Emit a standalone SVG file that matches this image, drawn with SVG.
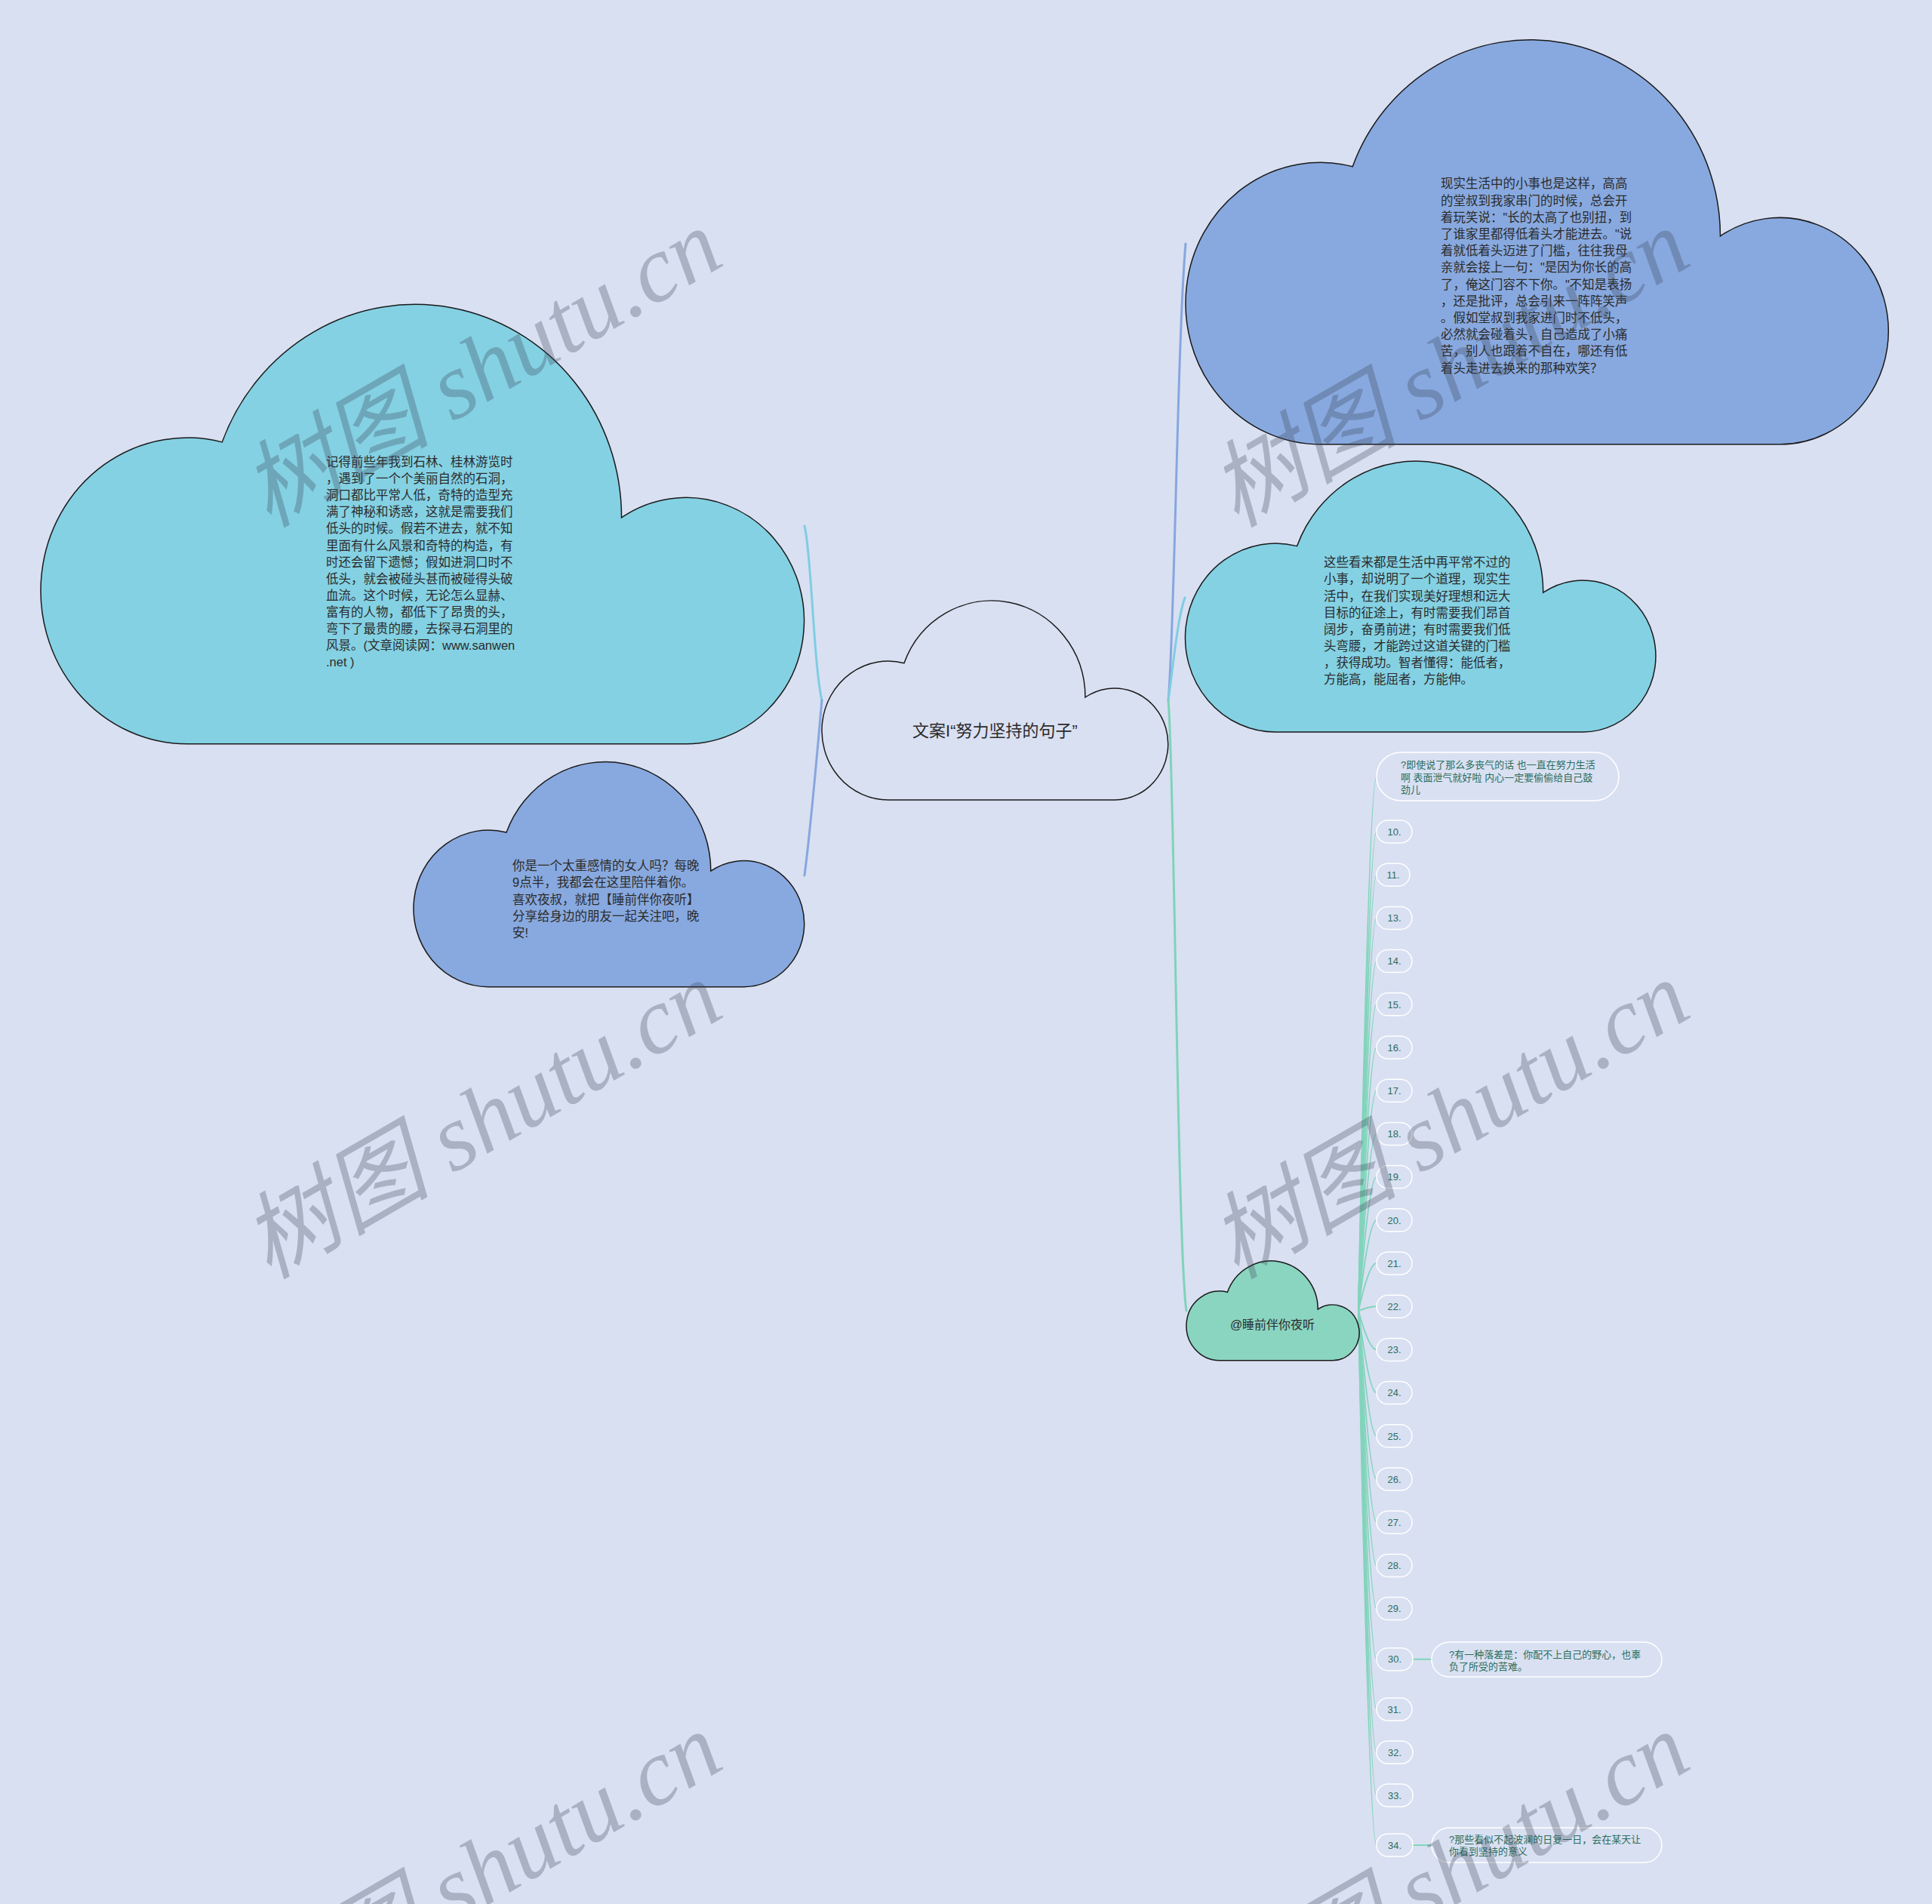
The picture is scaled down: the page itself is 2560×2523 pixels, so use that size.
<svg xmlns="http://www.w3.org/2000/svg" width="2560" height="2523" viewBox="0 0 2560 2523">
<style>
.cloud{stroke:#1a1a1a}
.c-none{fill:#d9e0f2}
.c-cyan{fill:#84d1e3}
.c-blue{fill:#88a9df}
.c-green{fill:#8ad5c0}
.t{font-family:"Liberation Sans","Noto Sans CJK SC",sans-serif;fill:#2b2b2b}
.tb{font-size:16.5px}
.sn{fill:none;stroke:#ffffff;stroke-width:1.5}
.st{font-family:"Liberation Sans","Noto Sans CJK SC",sans-serif;font-size:13px;fill:#2a6e5c}
.num{text-anchor:middle}
.conn{fill:none;stroke-linecap:round}
.wm{font-family:"Liberation Serif","Noto Sans CJK SC",serif;font-size:125px;font-style:italic;fill:#3c465a;opacity:0.3}
</style>
<defs>
<path id="cloudShape" d="M88,262 A88,92 0 1 1 109,80.66 A124,128 0 0 1 349,126 A71,74 0 1 1 388,262 Z"/>
</defs>
<rect x="0" y="0" width="2560" height="2523" fill="#d9e0f2"/>

<g id="connectors">
<path class="conn" stroke="#7fcde2" stroke-width="3" d="M1089,928 C1078,880 1075,730 1066,697"/>
<path class="conn" stroke="#86a7de" stroke-width="3" d="M1089,928 C1084,985 1074,1100 1066,1160"/>
<path class="conn" stroke="#86a7de" stroke-width="3" d="M1548,928 C1556,850 1560,450 1571,323"/>
<path class="conn" stroke="#7fcde2" stroke-width="3" d="M1548,928 C1555,880 1560,820 1570,792"/>
<path class="conn" stroke="#80d3b9" stroke-width="3" d="M1548,928 C1556,1010 1560,1650 1572,1737"/>
<g stroke="#82d4bb" stroke-width="2" fill="none">
<path d="M1800,1737 Q1814,1029 1824,1029"/>
<path d="M1800,1737 Q1814,1102 1824,1102"/>
<path d="M1800,1737 Q1814,1159.2 1824,1159.2"/>
<path d="M1800,1737 Q1814,1216.4 1824,1216.4"/>
<path d="M1800,1737 Q1814,1273.6 1824,1273.6"/>
<path d="M1800,1737 Q1814,1330.8 1824,1330.8"/>
<path d="M1800,1737 Q1814,1388 1824,1388"/>
<path d="M1800,1737 Q1814,1445.2 1824,1445.2"/>
<path d="M1800,1737 Q1814,1502.4 1824,1502.4"/>
<path d="M1800,1737 Q1814,1559.6 1824,1559.6"/>
<path d="M1800,1737 Q1814,1616.8 1824,1616.8"/>
<path d="M1800,1737 Q1814,1674 1824,1674"/>
<path d="M1800,1737 Q1814,1731.2 1824,1731.2"/>
<path d="M1800,1737 Q1814,1788.4 1824,1788.4"/>
<path d="M1800,1737 Q1814,1845.6 1824,1845.6"/>
<path d="M1800,1737 Q1814,1902.8 1824,1902.8"/>
<path d="M1800,1737 Q1814,1960 1824,1960"/>
<path d="M1800,1737 Q1814,2017.2 1824,2017.2"/>
<path d="M1800,1737 Q1814,2074.4 1824,2074.4"/>
<path d="M1800,1737 Q1814,2131.6 1824,2131.6"/>
<path d="M1800,1737 Q1814,2198.7 1824,2198.7"/>
<path d="M1800,1737 Q1814,2265 1824,2265"/>
<path d="M1800,1737 Q1814,2322 1824,2322"/>
<path d="M1800,1737 Q1814,2379 1824,2379"/>
<path d="M1800,1737 Q1814,2445 1824,2445"/>
<path d="M1871,2198.7 L1897,2198.7"/>
<path d="M1871,2445 L1897,2445"/>
</g>
</g>

<g id="node-root">
<use href="#cloudShape" class="cloud c-none" stroke-width="1.5" transform="translate(1089,798)"/>
<text class="t" x="1318.5" y="976" font-size="22" text-anchor="middle">文案I“努力坚持的句子”</text>
</g>

<g id="node-right-1">
<use href="#cloudShape" class="cloud c-blue" stroke-width="0.74" transform="translate(1571,57) scale(2.03)"/>
<text class="t tb" x="1909" y="249.3">
<tspan x="1909">现实生活中的小事也是这样，高高</tspan>
<tspan x="1909" dy="22.2">的堂叔到我家串门的时候，总会开</tspan>
<tspan x="1909" dy="22.2">着玩笑说："长的太高了也别扭，到</tspan>
<tspan x="1909" dy="22.2">了谁家里都得低着头才能进去。"说</tspan>
<tspan x="1909" dy="22.2">着就低着头迈进了门槛，往往我母</tspan>
<tspan x="1909" dy="22.2">亲就会接上一句："是因为你长的高</tspan>
<tspan x="1909" dy="22.2">了，俺这门容不下你。"不知是表扬</tspan>
<tspan x="1909" dy="22.2">，还是批评，总会引来一阵阵笑声</tspan>
<tspan x="1909" dy="22.2">。假如堂叔到我家进门时不低头，</tspan>
<tspan x="1909" dy="22.2">必然就会碰着头，自己造成了小痛</tspan>
<tspan x="1909" dy="22.2">苦，别人也跟着不自在，哪还有低</tspan>
<tspan x="1909" dy="22.2">着头走进去换来的那种欢笑？</tspan>
</text>
</g>

<g id="node-right-2">
<use href="#cloudShape" class="cloud c-cyan" stroke-width="1.1" transform="translate(1570.5,614) scale(1.359)"/>
<text class="t tb" x="1754" y="751.3">
<tspan x="1754">这些看来都是生活中再平常不过的</tspan>
<tspan x="1754" dy="22.1">小事，却说明了一个道理，现实生</tspan>
<tspan x="1754" dy="22.1">活中，在我们实现美好理想和远大</tspan>
<tspan x="1754" dy="22.1">目标的征途上，有时需要我们昂首</tspan>
<tspan x="1754" dy="22.1">阔步，奋勇前进；有时需要我们低</tspan>
<tspan x="1754" dy="22.1">头弯腰，才能跨过这道关键的门槛</tspan>
<tspan x="1754" dy="22.1">，获得成功。智者懂得：能低者，</tspan>
<tspan x="1754" dy="22.1">方能高，能屈者，方能伸。</tspan>
</text>
</g>

<g id="node-left-1">
<use href="#cloudShape" class="cloud c-cyan" stroke-width="0.68" transform="translate(54,408) scale(2.205)"/>
<text class="t tb" x="432" y="618">
<tspan x="432">记得前些年我到石林、桂林游览时</tspan>
<tspan x="432" dy="22.1">，遇到了一个个美丽自然的石洞，</tspan>
<tspan x="432" dy="22.1">洞口都比平常人低，奇特的造型充</tspan>
<tspan x="432" dy="22.1">满了神秘和诱惑，这就是需要我们</tspan>
<tspan x="432" dy="22.1">低头的时候。假若不进去，就不知</tspan>
<tspan x="432" dy="22.1">里面有什么风景和奇特的构造，有</tspan>
<tspan x="432" dy="22.1">时还会留下遗憾；假如进洞口时不</tspan>
<tspan x="432" dy="22.1">低头，就会被碰头甚而被碰得头破</tspan>
<tspan x="432" dy="22.1">血流。这个时候，无论怎么显赫、</tspan>
<tspan x="432" dy="22.1">富有的人物，都低下了昂贵的头，</tspan>
<tspan x="432" dy="22.1">弯下了最贵的腰，去探寻石洞里的</tspan>
<tspan x="432" dy="22.1">风景。(文章阅读网：www.sanwen</tspan>
<tspan x="432" dy="22.1">.net )</tspan>
</text>
</g>

<g id="node-left-2">
<use href="#cloudShape" class="cloud c-blue" stroke-width="1.33" transform="translate(548,1012) scale(1.1285)"/>
<text class="t tb" x="679" y="1153">
<tspan x="679">你是一个太重感情的女人吗？每晚</tspan>
<tspan x="679" dy="22.3">9点半，我都会在这里陪伴着你。</tspan>
<tspan x="679" dy="22.3">喜欢夜叔，就把【睡前伴你夜听】</tspan>
<tspan x="679" dy="22.3">分享给身边的朋友一起关注吧，晚</tspan>
<tspan x="679" dy="22.3">安!</tspan>
</text>
</g>

<g id="node-right-3">
<use href="#cloudShape" class="cloud c-green" stroke-width="3" transform="translate(1572,1672) scale(0.4993)"/>
<text class="t" x="1686" y="1761" font-size="16" text-anchor="middle">@睡前伴你夜听</text>
</g>

<g id="node-sub-0">
<rect class="sn" x="1824" y="997" width="321" height="64" rx="32"/>
<text class="st" x="1856" y="1018">
<tspan x="1856">?即使说了那么多丧气的话 也一直在努力生活</tspan>
<tspan x="1856" dy="16.5">啊 表面泄气就好啦 内心一定要偷偷给自己鼓</tspan>
<tspan x="1856" dy="16.5">劲儿</tspan>
</text>
</g>
<g id="node-n10"><rect class="sn" x="1824" y="1087" width="47" height="30" rx="15"/><text class="st num" x="1847.5" y="1106.7">10.</text></g>
<g id="node-n11"><rect class="sn" x="1824" y="1144.2" width="44" height="30" rx="15"/><text class="st num" x="1846" y="1163.9">11.</text></g>
<g id="node-n13"><rect class="sn" x="1824" y="1201.4" width="47" height="30" rx="15"/><text class="st num" x="1847.5" y="1221.1">13.</text></g>
<g id="node-n14"><rect class="sn" x="1824" y="1258.6" width="47" height="30" rx="15"/><text class="st num" x="1847.5" y="1278.3">14.</text></g>
<g id="node-n15"><rect class="sn" x="1824" y="1315.8" width="47" height="30" rx="15"/><text class="st num" x="1847.5" y="1335.5">15.</text></g>
<g id="node-n16"><rect class="sn" x="1824" y="1373" width="47" height="30" rx="15"/><text class="st num" x="1847.5" y="1392.7">16.</text></g>
<g id="node-n17"><rect class="sn" x="1824" y="1430.2" width="47" height="30" rx="15"/><text class="st num" x="1847.5" y="1449.9">17.</text></g>
<g id="node-n18"><rect class="sn" x="1824" y="1487.4" width="47" height="30" rx="15"/><text class="st num" x="1847.5" y="1507.1">18.</text></g>
<g id="node-n19"><rect class="sn" x="1824" y="1544.6" width="47" height="30" rx="15"/><text class="st num" x="1847.5" y="1564.3">19.</text></g>
<g id="node-n20"><rect class="sn" x="1824" y="1601.8" width="47" height="30" rx="15"/><text class="st num" x="1847.5" y="1621.5">20.</text></g>
<g id="node-n21"><rect class="sn" x="1824" y="1659" width="47" height="30" rx="15"/><text class="st num" x="1847.5" y="1678.7">21.</text></g>
<g id="node-n22"><rect class="sn" x="1824" y="1716.2" width="47" height="30" rx="15"/><text class="st num" x="1847.5" y="1735.9">22.</text></g>
<g id="node-n23"><rect class="sn" x="1824" y="1773.4" width="47" height="30" rx="15"/><text class="st num" x="1847.5" y="1793.1">23.</text></g>
<g id="node-n24"><rect class="sn" x="1824" y="1830.6" width="47" height="30" rx="15"/><text class="st num" x="1847.5" y="1850.3">24.</text></g>
<g id="node-n25"><rect class="sn" x="1824" y="1887.8" width="47" height="30" rx="15"/><text class="st num" x="1847.5" y="1907.5">25.</text></g>
<g id="node-n26"><rect class="sn" x="1824" y="1945" width="47" height="30" rx="15"/><text class="st num" x="1847.5" y="1964.7">26.</text></g>
<g id="node-n27"><rect class="sn" x="1824" y="2002.2" width="47" height="30" rx="15"/><text class="st num" x="1847.5" y="2021.9">27.</text></g>
<g id="node-n28"><rect class="sn" x="1824" y="2059.4" width="47" height="30" rx="15"/><text class="st num" x="1847.5" y="2079.1">28.</text></g>
<g id="node-n29"><rect class="sn" x="1824" y="2116.6" width="47" height="30" rx="15"/><text class="st num" x="1847.5" y="2136.3">29.</text></g>
<g id="node-n30"><rect class="sn" x="1824" y="2183.7" width="48" height="30" rx="15"/><text class="st num" x="1848" y="2203.4">30.</text></g>
<g id="node-n31"><rect class="sn" x="1824" y="2250" width="47" height="30" rx="15"/><text class="st num" x="1847.5" y="2269.7">31.</text></g>
<g id="node-n32"><rect class="sn" x="1824" y="2307" width="48" height="30" rx="15"/><text class="st num" x="1848" y="2326.7">32.</text></g>
<g id="node-n33"><rect class="sn" x="1824" y="2364" width="48" height="30" rx="15"/><text class="st num" x="1848" y="2383.7">33.</text></g>
<g id="node-n34"><rect class="sn" x="1824" y="2430" width="48" height="30" rx="15"/><text class="st num" x="1848" y="2449.7">34.</text></g>
<g id="node-n30-child">
<rect class="sn" x="1897" y="2176" width="305" height="46" rx="23"/>
<text class="st" x="1920" y="2196.7"><tspan x="1920">?有一种落差是：你配不上自己的野心，也辜</tspan><tspan x="1920" dy="16.6">负了所受的苦难。</tspan></text>
</g>
<g id="node-n34-child">
<rect class="sn" x="1897" y="2422" width="305" height="46" rx="23"/>
<text class="st" x="1920" y="2441.7"><tspan x="1920">?那些看似不起波澜的日复一日，会在某天让</tspan><tspan x="1920" dy="16.6">你看到坚持的意义</tspan></text>
</g>

<g id="watermarks">
<text class="wm" transform="translate(356,700) rotate(-30)">树图 shutu.cn</text>
<text class="wm" transform="translate(1638,700) rotate(-30)">树图 shutu.cn</text>
<text class="wm" transform="translate(356,1696) rotate(-30)">树图 shutu.cn</text>
<text class="wm" transform="translate(1638,1696) rotate(-30)">树图 shutu.cn</text>
<text class="wm" transform="translate(356,2692) rotate(-30)">树图 shutu.cn</text>
<text class="wm" transform="translate(1638,2692) rotate(-30)">树图 shutu.cn</text>
</g>
</svg>
